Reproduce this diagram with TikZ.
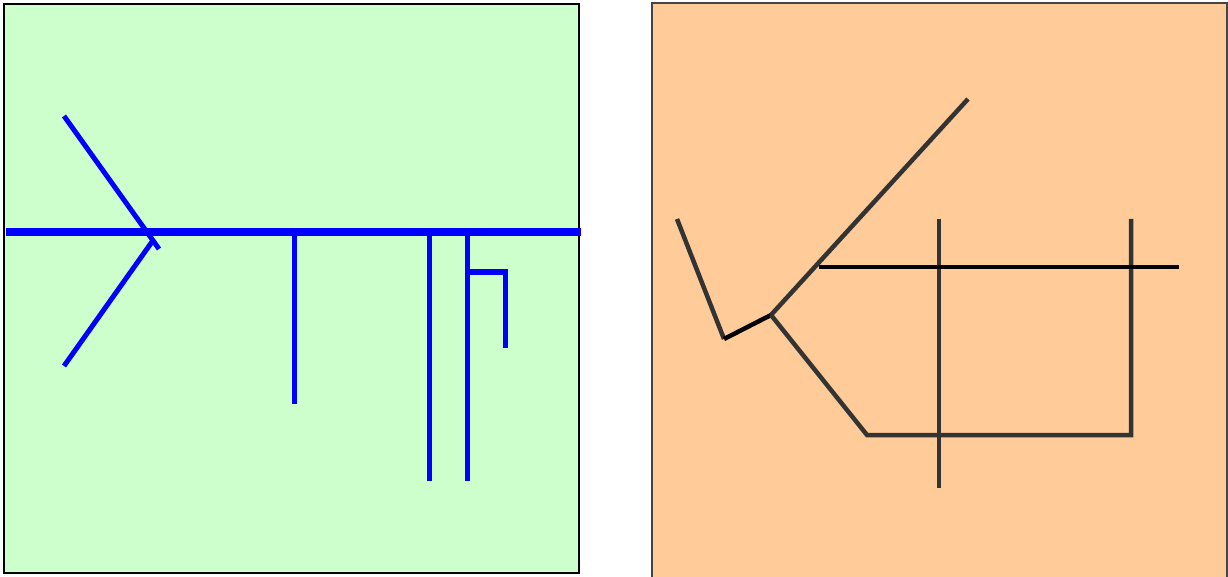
\documentclass[tikz,border=0pt]{standalone}
\usepackage{tikz}
\definecolor{panelgreen}{RGB}{204,255,204}
\definecolor{panelorange}{RGB}{255,204,153}
\definecolor{linegray}{RGB}{51,51,51}
\definecolor{framegray}{RGB}{68,68,68}
\begin{document}
\begin{tikzpicture}[x=1pt,y=-1pt,
    spine/.style={draw=blue,line width=8.5pt},
    rib/.style={draw=blue,line width=5pt},
    stem/.style={draw=blue,line width=5pt},
    gline/.style={draw=linegray,line width=4.5pt},
    kline/.style={draw=black,line width=4.5pt}]
    \useasboundingbox (0,0) rectangle (1228,577);
    % left panel
    \draw[fill=panelgreen,draw=black,line width=2pt] (4,4) rectangle (579,573);
    \coordinate (sL) at (6,232); \coordinate (sR) at (581,232);
    \draw[spine] (sL)--(sR);
    \coordinate (ua) at (64,116); \coordinate (ub) at (159,249);
    \coordinate (la) at (64,366); \coordinate (lb) at (154,239);
    \draw[rib] (ua)--(ub); \draw[rib] (la)--(lb);
    \coordinate (v1t) at (294,232); \coordinate (v1b) at (294,404);
    \coordinate (v2t) at (429,232); \coordinate (v2b) at (429,481);
    \coordinate (v3t) at (467,232); \coordinate (v3b) at (467,481);
    \draw[stem] (v1t)--(v1b); \draw[stem] (v2t)--(v2b); \draw[stem] (v3t)--(v3b);
    \coordinate (hk) at (467,272); \coordinate (hke) at (505,348);
    \draw[stem] (hk)-|(hke);
    % right panel
    \draw[fill=panelorange,draw=framegray,line width=2pt] (652,3) rectangle (1227,585);
    \coordinate (p1) at (677,219); \coordinate (p2) at (724,339);
    \coordinate (p3) at (771,315); \coordinate (p4) at (968,99);
    \coordinate (p5) at (867,435); \coordinate (p6) at (1131,435);
    \coordinate (p7) at (1131,219);
    \draw[gline] (p1)--(p2);
    \draw[kline] (p2)--(p3);
    \draw[gline] (p3)--(p4);
    \draw[gline] (p3)--(p5)--(p6)--(p7);
    \coordinate (q1) at (939,219); \coordinate (q2) at (939,488);
    \draw[gline] (q1)--(q2);
    \coordinate (r1) at (819,267); \coordinate (r2) at (1179,267);
    \draw[kline] (r1)--(r2);
\end{tikzpicture}
\end{document}
